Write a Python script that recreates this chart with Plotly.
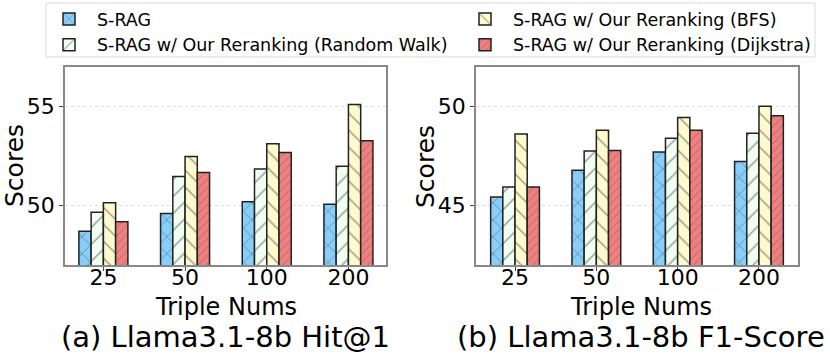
import plotly.graph_objects as go

# data
triple_nums = ["25", "50", "100", "200"]
series_names = [
    "S-RAG",
    "S-RAG w/ Our Reranking (Random Walk)",
    "S-RAG w/ Our Reranking (BFS)",
    "S-RAG w/ Our Reranking (Dijkstra)",
]
hit1_srag = [48.7, 49.6, 50.2, 50.07]
hit1_rw = [49.67, 51.47, 51.85, 51.99]
hit1_bfs = [50.15, 52.48, 53.13, 55.1]
hit1_dijkstra = [49.18, 51.67, 52.68, 53.28]

f1_srag = [45.44, 46.78, 47.71, 47.23]
f1_rw = [45.94, 47.76, 48.4, 48.66]
f1_bfs = [48.61, 48.8, 49.45, 50.02]
f1_dijkstra = [45.94, 47.78, 48.8, 49.54]

colors = ["#87CEFA", "#F0FFF0", "#FFFACD", "#F08080"]
patterns = [("x", 12), ("/", 12), ("\\", 12), ("/", 6)]
legend_ids = ["legend", "legend", "legend2", "legend2"]

FONT = "DejaVu Sans"
W, H = 830, 356

fig = go.Figure()


def add_group(values, xaxis, yaxis, show):
    for i, vals in enumerate(values):
        shape, size = patterns[i]
        fig.add_trace(
            go.Bar(
                x=triple_nums,
                y=vals,
                name=series_names[i],
                xaxis=xaxis,
                yaxis=yaxis,
                showlegend=show,
                legend=legend_ids[i],
                marker={
                    "color": colors[i],
                    "line": {"color": "#222222", "width": 1.5},
                    "pattern": {
                        "shape": shape,
                        "size": size,
                        "solidity": 0.12,
                        "fgcolor": "#3a3a3a",
                        "fillmode": "overlay",
                    },
                },
            )
        )


add_group([hit1_srag, hit1_rw, hit1_bfs, hit1_dijkstra], "x", "y", True)
add_group([f1_srag, f1_rw, f1_bfs, f1_dijkstra], "x2", "y2", False)

axis_common = dict(
    showline=True,
    linecolor="#888888",
    linewidth=1.5,
    mirror=True,
    ticks="outside",
    ticklen=4,
    tickcolor="#444444",
    tickfont={"family": FONT, "size": 22, "color": "black"},
    automargin=False,
)

y_bottom = 1 - 265 / H
y_top = 1 - 67 / H

legend_common = dict(
    y=1 - 1 / H, xanchor="left", yanchor="top",
    orientation="v", bgcolor="rgba(0,0,0,0)",
    font={"family": FONT, "size": 17.5, "color": "black"},
    itemwidth=46, tracegroupgap=0,
)

fig.update_layout(
    width=W,
    height=H,
    margin={"l": 0, "r": 0, "t": 0, "b": 0},
    plot_bgcolor="white",
    paper_bgcolor="white",
    barmode="group",
    bargap=0.4,
    bargroupgap=0,
    font={"family": FONT, "color": "black"},
    xaxis=dict(axis_common, domain=[65 / W, 386 / W], range=[-0.47, 3.46],
               type="category", anchor="y", showgrid=False, ticklabelstandoff=-12),
    yaxis=dict(axis_common, domain=[y_bottom, y_top], range=[47, 57], dtick=5,
               anchor="x", showgrid=True, gridcolor="#dddddd", griddash="dot", gridwidth=1),
    xaxis2=dict(axis_common, domain=[476 / W, 798 / W], range=[-0.48, 3.48],
                type="category", anchor="y2", showgrid=False, ticklabelstandoff=-12),
    yaxis2=dict(axis_common, domain=[y_bottom, y_top], range=[42, 52], dtick=5,
                anchor="x2", showgrid=True, gridcolor="#dddddd", griddash="dot", gridwidth=1),
    legend=dict(legend_common, x=41 / W),
    legend2=dict(legend_common, x=457 / W),
)

# legend frame
fig.add_shape(type="rect", xref="paper", yref="paper",
              x0=46 / W, x1=815 / W, y0=1 - 57 / H, y1=1 - 3 / H,
              line={"color": "#d9d9d9", "width": 1}, fillcolor="rgba(0,0,0,0)")

annotations = []
for cx, ylab_x, caption in [
    ((65 + 386) / 2 / W, 15 / W, "(a) Llama3.1-8b Hit@1"),
    ((480 + 802) / 2 / W, 426 / W, "(b) Llama3.1-8b F1-Score"),
]:
    annotations.append(dict(x=cx, y=1 - 307 / H, xref="paper", yref="paper",
                            text="Triple Nums", showarrow=False, borderpad=0,
                            font={"family": FONT, "size": 24}, xanchor="center", yanchor="middle"))
    annotations.append(dict(x=cx, y=1 - 337 / H, xref="paper", yref="paper",
                            text=caption, showarrow=False, borderpad=0,
                            font={"family": FONT, "size": 29}, xanchor="center", yanchor="middle"))
    annotations.append(dict(x=ylab_x, y=1 - 166 / H, xref="paper", yref="paper",
                            text="Scores", showarrow=False, textangle=-90, borderpad=0,
                            font={"family": FONT, "size": 25}, xanchor="center", yanchor="middle"))
fig.update_layout(annotations=annotations)

fig.write_html("out.html", config={"displayModeBar": False},
               post_script="document.body.style.margin='0';")
